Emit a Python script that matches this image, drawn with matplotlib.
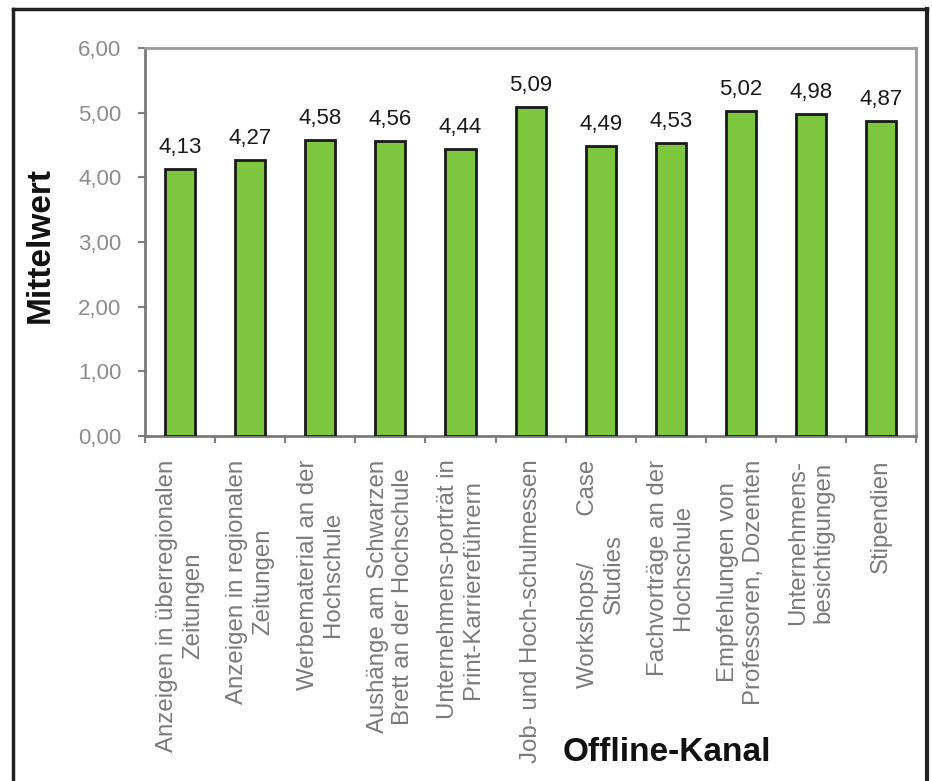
import matplotlib
matplotlib.use("Agg")
import matplotlib.pyplot as plt
from matplotlib.lines import Line2D
import numpy as np

plt.rcParams['font.family'] = ['Liberation Sans', 'DejaVu Sans']

categories = [
    "Anzeigen in überregionalen\nZeitungen",
    "Anzeigen in regionalen\nZeitungen",
    "Werbematerial an der\nHochschule",
    "Aushänge am Schwarzen\nBrett an der Hochschule",
    "Unternehmens-porträt in\nPrint-Karriereführern",
    "Job- und Hoch-schulmessen",
    "Workshops/       Case\nStudies",
    "Fachvorträge an der\nHochschule",
    "Empfehlungen von\nProfessoren, Dozenten",
    "Unternehmens-\nbesichtigungen",
    "Stipendien",
]
values = [4.13, 4.27, 4.58, 4.56, 4.44, 5.09, 4.49, 4.53, 5.02, 4.98, 4.87]
yticks = [0, 1, 2, 3, 4, 5, 6]
ytick_labels = ["0,00", "1,00", "2,00", "3,00", "4,00", "5,00", "6,00"]
value_labels = ["4,13", "4,27", "4,58", "4,56", "4,44", "5,09", "4,49", "4,53", "5,02", "4,98", "4,87"]

fig = plt.figure(figsize=(9.32, 7.81), dpi=100)
ax = fig.add_axes([0.1556, 0.4417, 0.8274, 0.4968])

x = np.arange(len(categories))
bars = ax.bar(x, values, width=0.43, color="#7FC63F", edgecolor="#1a1a1a", linewidth=2, zorder=3)

for xi, v, lab in zip(x, values, value_labels):
    ax.annotate(lab, (xi, v), xytext=(0, 8), textcoords="offset points",
                ha="center", va="bottom", fontsize=16, color="#1a1a1a")

ax.set_xlim(-0.5, len(categories) - 0.5)
ax.set_ylim(0, 6)
ax.set_yticks(yticks)
ax.set_yticklabels(ytick_labels, fontsize=16, color="#8c8c8c")
ax.tick_params(axis='y', direction='out', length=5, width=1.5, color="#808080", pad=12)

ax.set_xticks(x)
ax.set_xticklabels(categories, rotation=90, fontsize=17.3, color="#7a7a7a",
                   ha="center", va="top", multialignment="center")
ax.tick_params(axis='x', which='major', length=0, pad=17)
ax.set_xticks(np.arange(-0.5, len(categories) + 0.5, 1), minor=True)
ax.tick_params(axis='x', which='minor', direction='out', length=5, width=1.5, color="#808080")

for side in ['left', 'bottom']:
    ax.spines[side].set_color("#7a7a7a")
    ax.spines[side].set_linewidth(2)
for side in ['top', 'right']:
    ax.spines[side].set_color("#9a9a9a")
    ax.spines[side].set_linewidth(2)

fig.text(0.043, 0.686, "Mittelwert", rotation=90, fontsize=24, fontweight="bold",
         ha="center", va="center", color="#111111")
fig.text(0.715, 0.037, "Offline-Kanal", fontsize=24, fontweight="bold",
         ha="center", va="center", color="#111111")

# outer frame (left, top, right)
fc = "#222222"
fig.add_artist(Line2D([0.0135, 0.0135], [0.0, 0.989], transform=fig.transFigure, color=fc, linewidth=2.5))
fig.add_artist(Line2D([0.0135, 0.995], [0.989, 0.989], transform=fig.transFigure, color=fc, linewidth=2.5))
fig.add_artist(Line2D([0.995, 0.995], [0.0, 0.989], transform=fig.transFigure, color=fc, linewidth=3))

fig.savefig("out.png", dpi=100)
